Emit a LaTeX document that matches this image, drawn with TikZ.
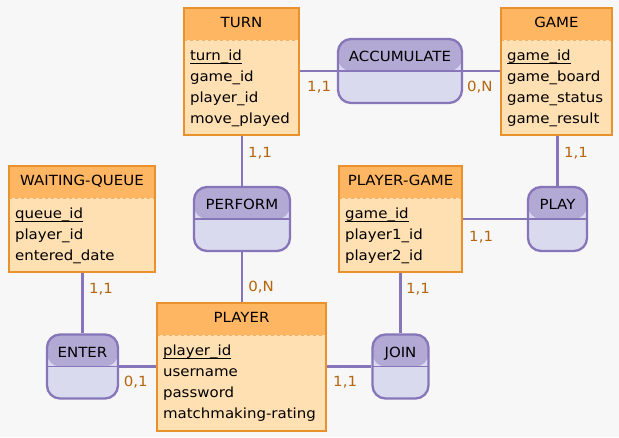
\documentclass[tikz,border=0pt]{standalone}
\usepackage{fontspec}
\setmainfont[FakeStretch=1.07]{DejaVu Sans}
\pgfdeclarelayer{background}
\pgfsetlayers{background,main}
\definecolor{bgcol}{HTML}{F7F7F7}
\definecolor{enthead}{HTML}{FFB663}
\definecolor{entbody}{HTML}{FFE0B3}
\definecolor{entline}{HTML}{E8912D}
\definecolor{relhead}{HTML}{B2AAD4}
\definecolor{relbody}{HTML}{DADAEE}
\definecolor{relline}{HTML}{8675B8}
\definecolor{cardcol}{HTML}{B5650C}
\tikzset{
    entbox/.style={draw=entline, line width=2.3pt, fill=entbody, inner sep=0pt,
        path picture={
            \fill[enthead] (path picture bounding box.north west) rectangle
                ([yshift=-32pt]path picture bounding box.north east);
            \draw[entline!70, line width=0.8pt, dashed]
                ([yshift=-32pt]path picture bounding box.north west) --
                ([yshift=-32pt]path picture bounding box.north east);
        }},
    relbox/.style={draw=relline, line width=2.3pt, fill=relbody, inner sep=0pt,
        rounded corners=13pt, minimum height=64pt,
        path picture={
            \fill[relhead] (path picture bounding box.north west) rectangle
                (path picture bounding box.east);
            \draw[relline, line width=1.6pt] (path picture bounding box.west) --
                (path picture bounding box.east);
        }},
    enttitle/.style={anchor=base, inner sep=0pt},
    reltitle/.style={anchor=base, inner sep=0pt},
    attr/.style={anchor=base west, inner sep=0pt},
    link/.style={draw=relline, line width=2.4pt},
    card/.style={text=cardcol, inner sep=0pt}
}
\newcommand{\pkey}[1]{\setbox0=\hbox{#1}\rlap{\rule[-3pt]{\wd0}{0.9pt}}\box0}
\newcommand{\erentity}[8]{% name, x, y, w, h, title, key, attributes
    \node[entbox, minimum width=#4pt, minimum height=#5pt] (#1) at (#2+#4/2, #3+#5/2) {};
    \node[enttitle] (#1-t) at ([yshift=-21pt]#1.north) {#6};
    \node[attr] (#1-k) at ([xshift=7pt, yshift=-54pt]#1.north west) {\pkey{#7}};
    \foreach \a [count=\i] in {#8}
        \node[attr] (#1-a\i) at ([xshift=7pt, yshift={-(54+21*\i)*1pt}]#1.north west) {\a};
}
\newcommand{\errelation}[5]{% name, x, y, w, title
    \node[relbox, minimum width=#4pt] (#1) at (#2, #3) {};
    \node[reltitle] (#1-t) at ([yshift=-24pt]#1.north) {#5};
}

\begin{document}
\begin{tikzpicture}[x=1pt, y=-1pt, font=\fontsize{14}{17}\selectfont]
    \begin{pgfonlayer}{background}
        \fill[bgcol] (0,0) rectangle (619,437);
    \end{pgfonlayer}
    \erentity{turn}{184}{8}{115}{127}{TURN}{turn\_id}{game\_id,player\_id,move\_played}
    \erentity{game}{501}{8}{111}{127}{GAME}{game\_id}{game\_board,game\_status,game\_result}
    \erentity{wq}{9}{166}{146}{106}{WAITING-QUEUE}{queue\_id}{player\_id,entered\_date}
    \erentity{pg}{339}{166}{123}{106}{PLAYER-GAME}{game\_id}{player1\_id,player2\_id}
    \erentity{player}{157}{303}{169}{128}{PLAYER}{player\_id}{username,password,matchmaking-rating}
    \errelation{acc}{400}{71}{124}{ACCUMULATE}
    \errelation{perform}{242}{219}{96}{PERFORM}
    \errelation{play}{557.5}{219}{59}{PLAY}
    \errelation{enter}{82.5}{366.5}{71}{ENTER}
    \errelation{join}{400.5}{366.5}{56}{JOIN}
    \begin{pgfonlayer}{background}
        \draw[link] (turn.east |- acc) -- (acc)
            node[card, pos=0, xshift=19pt, yshift=-16pt] (c1) {1,1};
        \draw[link] (game.west |- acc) -- (acc)
            node[card, pos=0, xshift=-20pt, yshift=-16pt] (c2) {0,N};
        \draw[link] (turn.south -| perform) -- (perform)
            node[card, pos=0, xshift=18pt, yshift=-17pt] (c3) {1,1};
        \draw[link] (player.north -| perform) -- (perform)
            node[card, pos=0, xshift=19pt, yshift=15pt] (c4) {0,N};
        \draw[link] (game.south -| play) -- (play)
            node[card, pos=0, xshift=18.5pt, yshift=-17pt] (c5) {1,1};
        \draw[link] (pg.east |- play) -- (play)
            node[card, pos=0, xshift=18pt, yshift=-18pt] (c6) {1,1};
        \draw[link] (wq.south -| enter) -- (enter)
            node[card, pos=0, xshift=18.5pt, yshift=-16pt] (c7) {1,1};
        \draw[link] (player.west |- enter) -- (enter)
            node[card, pos=0, xshift=-20pt, yshift=-15.5pt] (c8) {0,1};
        \draw[link] (pg.south -| join) -- (join)
            node[card, pos=0, xshift=17.5pt, yshift=-16pt] (c9) {1,1};
        \draw[link] (player.east |- join) -- (join)
            node[card, pos=0, xshift=18pt, yshift=-15.5pt] (c10) {1,1};
    \end{pgfonlayer}
\end{tikzpicture}
\end{document}
